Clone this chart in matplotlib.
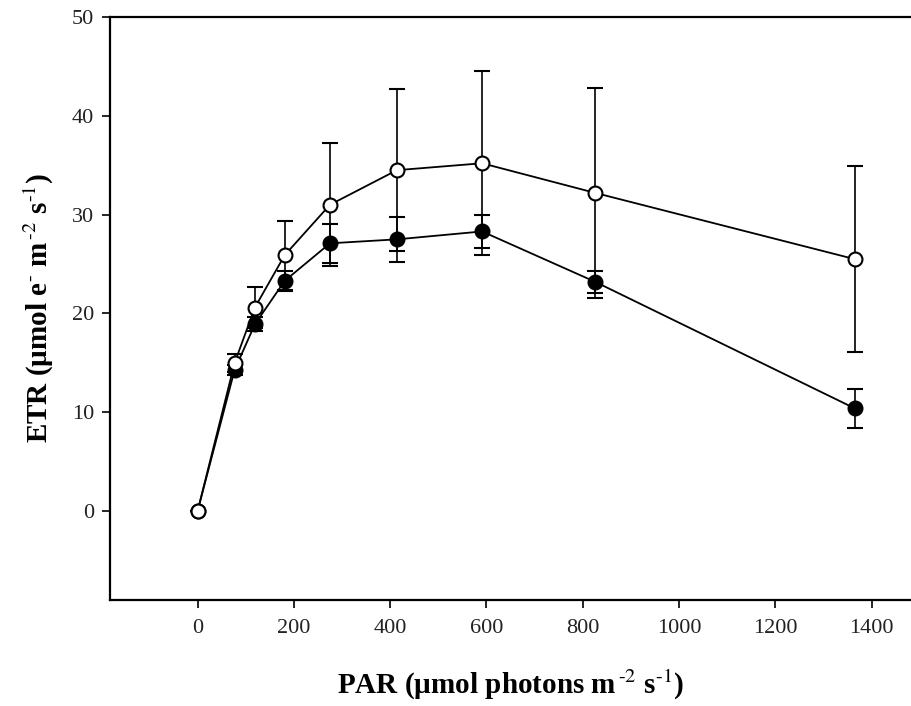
import numpy as np
import matplotlib.pyplot as plt

# Light response curves of ETR (mean +/- SD)
par = [0, 77, 119, 181, 275, 414, 591, 826, 1365]

etr_open = [0.0, 15.0, 20.6, 25.9, 31.0, 34.5, 35.2, 32.2, 25.5]
err_open = [0.0, 0.9, 2.1, 3.5, 6.2, 8.2, 9.3, 10.6, 9.4]

etr_filled = [0.0, 14.3, 18.9, 23.3, 27.1, 27.5, 28.3, 23.2, 10.4]
err_filled = [0.0, 0.5, 0.7, 1.0, 2.0, 2.3, 1.7, 1.1, 1.95]

xticks = [0, 200, 400, 600, 800, 1000, 1200, 1400]
yticks = [0, 10, 20, 30, 40, 50]

plt.rcParams['font.family'] = ['Liberation Serif', 'DejaVu Serif']
plt.rcParams['mathtext.fontset'] = 'stix'

fig = plt.figure(figsize=(9.11, 7.06), dpi=100)
ax = fig.add_axes([0.1207, 0.1501, 0.8793, 0.8258])

style = dict(color='black', lw=1.3, ms=10, mew=1.5, capsize=6,
             elinewidth=1.2, capthick=1.2)
ax.errorbar(par, etr_filled, yerr=err_filled, fmt='-o', mfc='black',
            mec='black', zorder=3, **style)
ax.errorbar(par, etr_open, yerr=err_open, fmt='-o', mfc='white',
            mec='black', zorder=4, **style)

ax.set_xlim(-182, 1482)
ax.set_ylim(-9, 50)
ax.set_xticks(xticks)
ax.set_yticks(yticks)

ax.spines['right'].set_visible(False)
for s in ['left', 'bottom', 'top']:
    ax.spines[s].set_linewidth(1.6)

ax.tick_params(axis='both', direction='out', length=5.5, width=1.2,
               labelsize=16, labelcolor='#222222')
ax.tick_params(axis='x', pad=8)
ax.tick_params(axis='y', pad=6)

ax.set_xlabel(r'PAR (µmol photons m$^{\,\text{-}2}$ s$^{\text{-}1}$)',
              fontsize=21, fontweight='bold', labelpad=22)
ax.set_ylabel(r'ETR (µmol e$^{\text{-}}$ m$^{\,\text{-}2}$ s$^{\text{-}1}$)',
              fontsize=21, fontweight='bold', labelpad=11)

plt.savefig('out.png', dpi=100)
